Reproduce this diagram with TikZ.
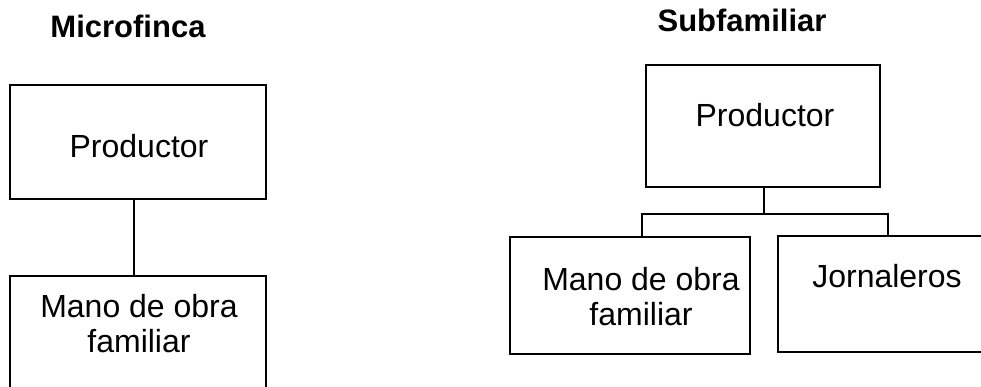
\documentclass[tikz,border=0pt]{standalone}
\usepackage{fontspec}
\setmainfont{Liberation Sans}
\usetikzlibrary{calc}
\begin{document}
\begin{tikzpicture}[x=1pt,y=-1pt,
  box/.style={draw=black, line width=1.3pt, rectangle, inner sep=0pt},
  txt/.style={anchor=base, inner sep=0pt, font=\fontsize{32}{35}\selectfont, align=center},
  ttl/.style={anchor=base, inner sep=0pt, font=\fontsize{31}{35}\selectfont\bfseries},
  conn/.style={draw=black, line width=1.3pt}]
\useasboundingbox (0,0) rectangle (981,387);
\clip (0,0) rectangle (981,387);
\fill[white] (0,0) rectangle (981,387);
% titles
\node[ttl] (t1) at (128,38) {Microfinca};
\node[ttl] (t2) at (742,32) {Subfamiliar};
% left
\node[box, minimum width=256pt, minimum height=114pt] (p1) at (138,142) {};
\node[txt] (p1t) at (139,158) {Productor};
\node[box, minimum width=256pt, minimum height=150pt] (m1) at (138,351) {};
\node[txt] (m1t) at (139,352) {Mano de obra\\familiar};
\draw[conn] (p1.south -| 134,0) -- (m1.north -| 134,0);
% right
\node[box, minimum width=234pt, minimum height=122pt] (p2) at (763,126) {};
\node[txt] (p2t) at (765,127) {Productor};
\node[box, minimum width=240pt, minimum height=117pt] (m2) at (630,295.5) {};
\node[txt] (m2t) at (641,325) {Mano de obra\\familiar};
\node[box, minimum width=232pt, minimum height=116pt] (jo) at (894,294) {};
\node[txt] (jot) at (887,287) {Jornaleros};
\coordinate (j) at (764,214);
\draw[conn] (p2.south -| j) -- (j);
\draw[conn] (m2.north -| 642,0) |- (j) -| (jo.north -| 888,0);
\end{tikzpicture}
\end{document}
